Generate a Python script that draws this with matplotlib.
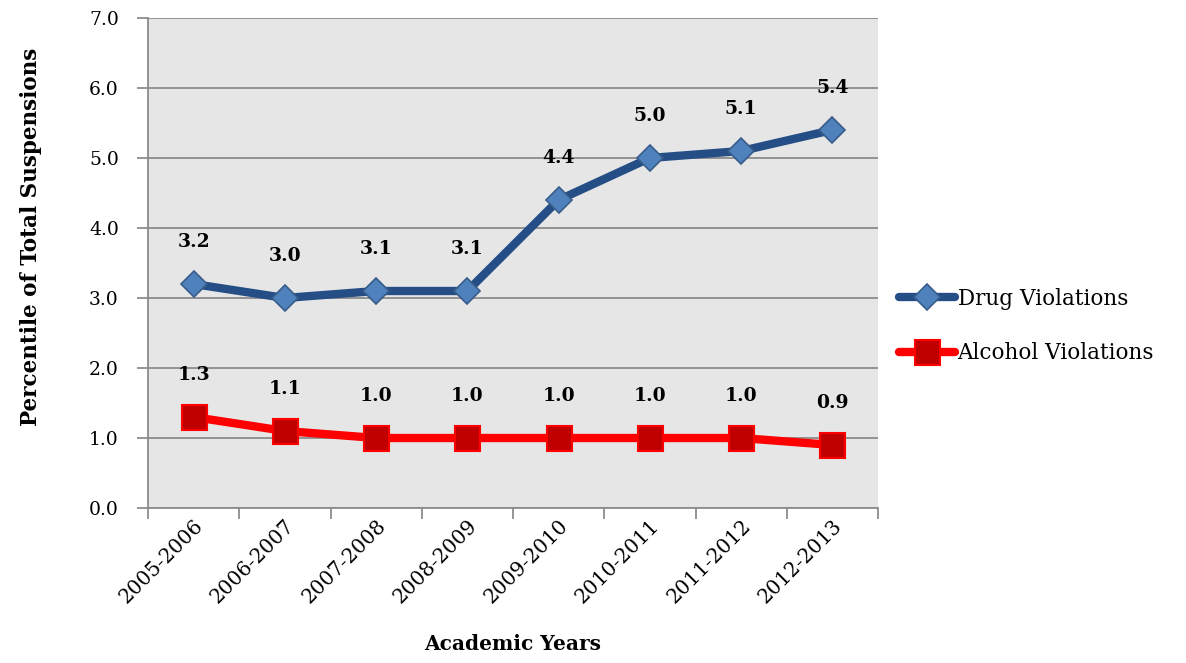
import matplotlib.pyplot as plt

years = ["2005-2006", "2006-2007", "2007-2008", "2008-2009",
         "2009-2010", "2010-2011", "2011-2012", "2012-2013"]
drug = [3.2, 3.0, 3.1, 3.1, 4.4, 5.0, 5.1, 5.4]
alcohol = [1.3, 1.1, 1.0, 1.0, 1.0, 1.0, 1.0, 0.9]

plt.rcParams['font.family'] = ['DejaVu Serif']

fig = plt.figure(figsize=(11.86, 6.63), dpi=100)
ax = fig.add_axes([148/1186, 1 - 508/663, 730/1186, 490/663])
ax.set_facecolor('#E6E6E6')

x = list(range(len(years)))
ax.plot(x, drug, color='#254E87', lw=6, marker='D', ms=13,
        mfc='#4F81BD', mec='#385D8A', mew=1.2, solid_capstyle='round',
        label='Drug Violations', zorder=3)
ax.plot(x, alcohol, color='#FF0000', lw=6, marker='s', ms=18,
        mfc='#C00000', mec='#FF0000', mew=1.5, solid_capstyle='round',
        label='Alcohol Violations', zorder=3)

for i, v in enumerate(drug):
    ax.annotate(f"{v:.1f}", (i, v), xytext=(0, 24), textcoords='offset points',
                ha='center', va='bottom', fontsize=13.5, fontweight='bold')
for i, v in enumerate(alcohol):
    ax.annotate(f"{v:.1f}", (i, v), xytext=(0, 24), textcoords='offset points',
                ha='center', va='bottom', fontsize=13.5, fontweight='bold')

ax.set_xlim(-0.5, len(years) - 0.5)
ax.set_ylim(0, 7)
ax.set_yticks([i for i in range(8)])
ax.set_yticklabels([f"{i:.1f}" for i in range(8)], fontsize=13.5)
ax.set_xticks([i - 0.5 for i in range(len(years) + 1)])
ax.set_xticklabels([])
ax.set_xticks(x, minor=True)
ax.set_xticklabels(years, minor=True, rotation=45, ha='right',
                   rotation_mode='anchor', fontsize=14.5)
ax.tick_params(axis='x', which='minor', length=0, pad=6)
ax.tick_params(axis='x', which='major', length=8, color='#8C8C8C', width=1.3)
ax.tick_params(axis='y', length=8, color='#8C8C8C', width=1.3, pad=13)
ax.grid(axis='y', color='#8C8C8C', lw=1.3)
ax.set_axisbelow(True)
for s in ['top', 'right']:
    ax.spines[s].set_visible(False)
for s in ['left', 'bottom']:
    ax.spines[s].set_color('#8C8C8C')
    ax.spines[s].set_linewidth(1.3)

ax.set_ylabel("Percentile of Total Suspensions", fontsize=15.5, fontweight='bold')
ax.yaxis.set_label_coords(-106/730, (508 - 237)/490)
ax.set_xlabel("Academic Years", fontsize=14.5, fontweight='bold')
ax.xaxis.set_label_coords(0.5, -126/490)

fig.legend(loc='center left', bbox_to_anchor=(880/1186, 1 - 326/663),
           frameon=False, fontsize=15.5, handlelength=2.6, handletextpad=0.1,
           labelspacing=1.5)

fig.savefig("out.png", dpi=100)
